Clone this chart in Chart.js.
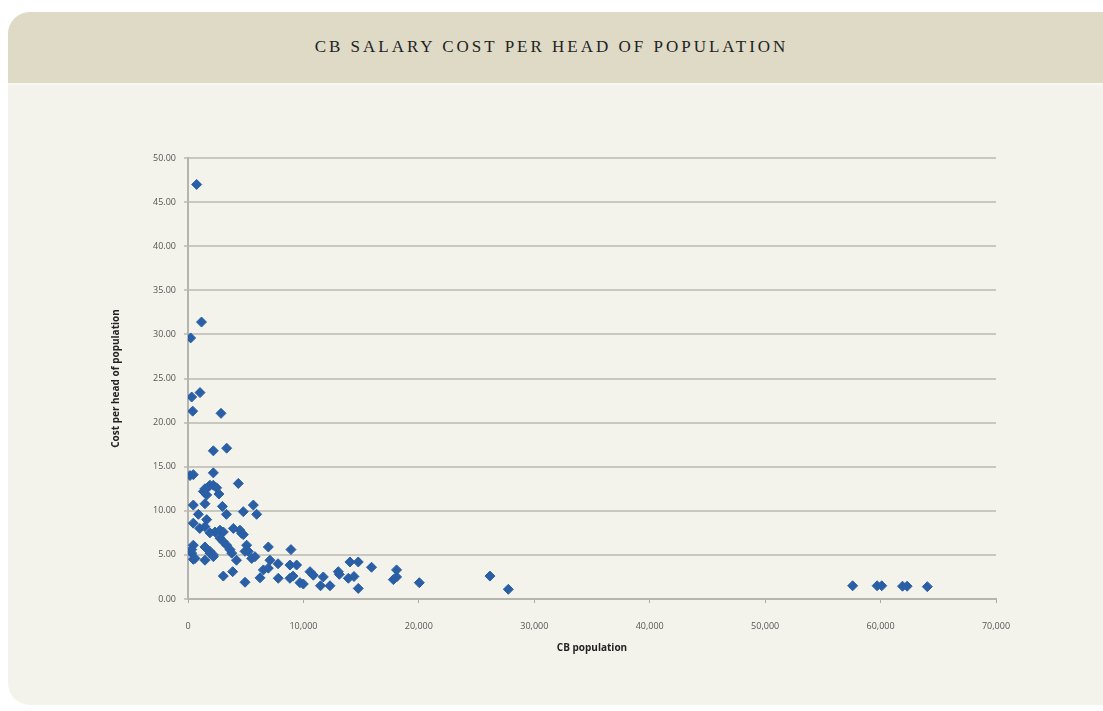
<!DOCTYPE html>
<html>
<head>
<meta charset="utf-8">
<script src="https://cdn.jsdelivr.net/npm/chart.js@4/dist/chart.umd.min.js"></script>
<style>
body{margin:0;background:#fff;width:1103px;height:711px;overflow:hidden;position:relative;font-family:"Open Sans",sans-serif;}
#card{position:absolute;left:8px;top:12px;width:1130px;height:693px;border-radius:22px;background:#f4f3eb;overflow:hidden;}
#head{position:absolute;left:0;top:0;right:0;height:71px;background:#dedac6;border-bottom:2px solid #f9f8f2;}
#title{position:absolute;left:0;width:1103px;top:37px;text-align:center;font-family:"Liberation Serif",serif;font-size:17px;letter-spacing:3px;color:#222;}
#wrap{position:absolute;left:100px;top:140px;width:930px;height:520px;}
</style>
</head>
<body>
<div id="card"><div id="head"></div></div>
<div id="title">CB SALARY COST PER HEAD OF POPULATION</div>
<div id="wrap"><canvas id="chart" width="930" height="520"></canvas></div>
<script>
// CB population
let population = [230,750,1170,320,1040,405,2860,2195,3350,175,460,2195,4360,
	1330,1620,1760,1900,2195,2480,2680,1470,
	460,1470,2980,3330,4790,5660,5950,900,1620,
	460,1020,1470,1900,2340,2770,3060,3930,4500,4790,4640,
	2770,3060,3350,3640,3790,
	460,1470,1900,2195,320,610,1470,4200,5080,5225,5520,5800,4940,320,460,1900,2200,
	6960,7100,7800,6530,6960,6240,3060,3870,4940,
	8920,8830,9410,7820,8830,9100,9700,9990,10570,10860,11720,11480,12300,
	13020,13110,14030,14750,13890,14380,14750,15900,17790,18070,18070,20040,
	26160,27750,57580,59700,60100,61900,62300,64050];
// cost per head of population
let costPerHead = [29.6,47.0,31.4,22.9,23.4,21.3,21.05,16.8,17.1,14.0,14.1,14.3,13.1,
	12.2,11.8,12.7,12.9,12.9,12.6,11.9,12.5,
	10.65,10.8,10.5,9.6,9.9,10.65,9.6,9.6,9.0,
	8.6,8.0,8.2,7.5,7.6,7.8,7.6,8.0,7.8,7.3,7.45,
	6.9,6.5,6.1,5.6,5.2,
	6.1,5.9,5.4,5.0,5.2,4.6,4.4,4.4,6.1,5.4,4.6,4.8,5.4,5.6,4.5,5.2,4.8,
	5.9,4.4,4.0,3.3,3.5,2.4,2.6,3.1,1.9,
	5.6,3.85,3.85,2.35,2.35,2.6,1.85,1.7,3.1,2.7,2.5,1.5,1.5,
	3.1,2.8,4.2,4.2,2.35,2.55,1.2,3.6,2.2,2.5,3.3,1.85,
	2.6,1.1,1.5,1.5,1.5,1.45,1.45,1.4];

let points = population.map(function(p, i){
	return {x: p, y: costPerHead[i]};
});

let tickFont = {family: 'Open Sans', size: 9};
let titleFont = {family: 'Open Sans', size: 10, weight: 'bold'};

new Chart($id('chart'), {
	type: 'scatter',
	data: {
		datasets: [{
			data: points,
			pointStyle: 'rectRot',
			pointRadius: 5,
			backgroundColor: '#2a5fa5',
			borderColor: '#2a5fa5',
			borderWidth: 1
		}]
	},
	options: {
		responsive: false,
		animation: false,
		layout: {padding: {top: 18, right: 34, left: 6, bottom: 0}},
		plugins: {legend: {display: false}, tooltip: {enabled: false}},
		scales: {
			x: {
				type: 'linear',
				min: 0,
				max: 70000,
				ticks: {
					stepSize: 10000,
					font: tickFont,
					color: '#555',
					padding: 18,
					maxRotation: 0,
					callback: function(v){ return v.toLocaleString('en-US'); }
				},
				grid: {drawOnChartArea: false, drawTicks: true, tickLength: 4, color: '#aaa'},
				border: {color: '#b5b5b0', width: 2},
				title: {display: true, text: 'CB population', font: titleFont, color: '#222', padding: {top: 4, bottom: 6}},
				afterFit: function(s){ s.height = 61; }
			},
			y: {
				min: 0,
				max: 50,
				ticks: {
					stepSize: 5,
					font: tickFont,
					color: '#555',
					padding: 8,
					callback: function(v){ return v.toFixed(2); }
				},
				grid: {color: '#c8c7c0', lineWidth: 2, tickLength: 4},
				border: {color: '#b5b5b0', width: 2},
				title: {display: true, text: 'Cost per head of population', font: titleFont, color: '#222'},
				afterFit: function(s){ s.width = 82; }
			}
		}
	}
});

function $id(id){
	return document.getElementById(id);
}
</script>
</body>
</html>
